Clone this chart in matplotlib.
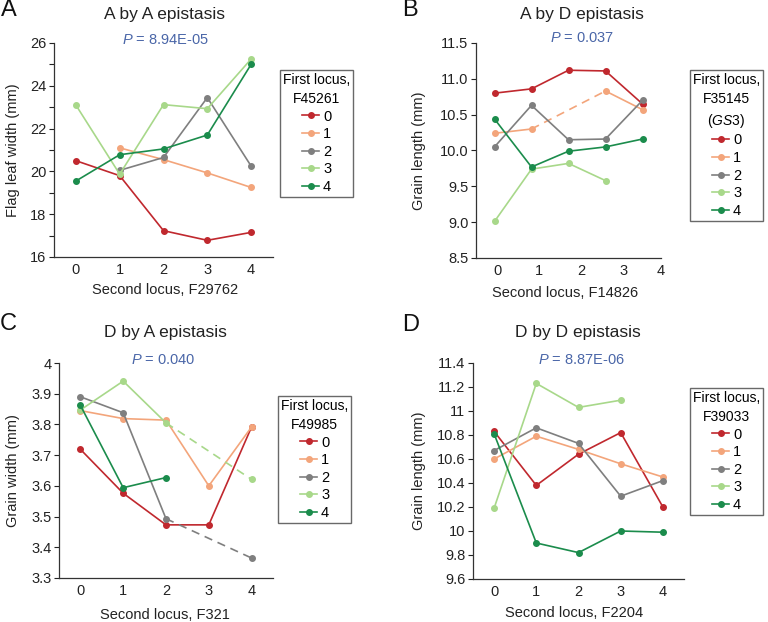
import matplotlib
matplotlib.use("Agg")
import numpy as np
import matplotlib.pyplot as plt
from matplotlib.ticker import MultipleLocator, FormatStrFormatter

plt.rcParams["font.family"] = ["Liberation Sans", "DejaVu Sans"]
plt.rcParams["mathtext.fontset"] = "custom"
plt.rcParams["mathtext.it"] = "Liberation Sans:italic"
plt.rcParams["mathtext.rm"] = "Liberation Sans"

W, H = 768, 622
nan = np.nan

# genotype classes (first / second locus)
genotypes = [0, 1, 2, 3, 4]
geno_labels = ["0", "1", "2", "3", "4"]
colors = ["#c0282e", "#f3a57b", "#7f7f7f", "#a8d88a", "#1b8c4c"]
p_color = "#4a66a8"

# A: flag leaf width, A by A
fl_0 = [20.5, 19.8, 17.23, 16.78, 17.15]
fl_1 = [nan, 21.1, 20.55, 19.93, 19.25]
fl_2 = [nan, 20.05, 20.65, 23.45, 20.25]
fl_3 = [23.1, 19.87, 23.12, 22.93, 25.25]
fl_4 = [19.55, 20.78, 21.05, 21.7, 25.0]

# B: grain length, A by D
glb_0 = [10.80, 10.86, 11.12, 11.11, 10.65]
glb_1 = [10.24, 10.30, nan, 10.83, 10.57]
glb_2 = [10.05, 10.63, 10.15, 10.16, 10.70]
glb_3 = [9.01, 9.74, 9.82, 9.58, nan]
glb_4 = [10.44, 9.77, 9.99, 10.05, 10.16]

# C: grain width, D by A
gw_0 = [3.719, 3.576, 3.473, 3.473, 3.792]
gw_1 = [3.845, 3.819, 3.814, 3.600, 3.792]
gw_2 = [3.890, 3.838, 3.493, nan, 3.365]
gw_3 = [3.847, 3.941, 3.805, nan, 3.621]
gw_4 = [3.862, 3.594, 3.627, nan, nan]

# D: grain length, D by D
gld_0 = [10.83, 10.38, 10.64, 10.82, 10.20]
gld_1 = [10.60, 10.79, 10.68, 10.56, 10.45]
gld_2 = [10.67, 10.86, 10.73, 10.29, 10.42]
gld_3 = [10.19, 11.23, 11.03, 11.09, nan]
gld_4 = [10.81, 9.90, 9.82, 10.00, 9.99]


def px(x, y):
    return x / W, 1 - y / H


def box(l, t, r, b):
    return [l / W, 1 - b / H, (r - l) / W, (b - t) / H]


def draw_series(ax, series):
    x = np.array(genotypes, dtype=float)
    for vals, col, lab in zip(series, colors, geno_labels):
        v = np.array(vals, dtype=float)
        ax.plot(x, v, color=col, lw=1.2, marker="o", ms=4, label=lab)
        idx = np.where(~np.isnan(v))[0]
        for i0, i1 in zip(idx[:-1], idx[1:]):
            if i1 - i0 > 1:
                ax.plot(x[[i0, i1]], v[[i0, i1]], color=col, lw=1.2, ls=(0, (5, 3.5)))


def style_axes(ax, xlabel, ylabel, ylab_x, xlab_pos):
    for s in ["top", "right"]:
        ax.spines[s].set_visible(False)
    for s in ["left", "bottom"]:
        ax.spines[s].set_color("#333333")
        ax.spines[s].set_linewidth(0.9)
    ax.tick_params(axis="x", length=0, pad=4, labelsize=10.5, colors="#222222")
    ax.tick_params(axis="y", which="both", length=3.5, width=0.8, pad=2,
                   labelsize=10.5, colors="#222222")
    ax.set_xlim(-0.5, 4.5)
    ax.set_xlabel(xlabel, fontsize=10.5, color="#222222")
    ax.set_ylabel(ylabel, fontsize=10.5, color="#222222")
    ax.xaxis.label.set_va("center")
    ax.yaxis.label.set_va("center")
    ax.xaxis.set_label_coords(*xlab_pos)
    ax.yaxis.set_label_coords(ylab_x, 0.5)


def add_legend(fig, ax, title, corner):
    leg = ax.legend(title=title, loc="upper left", bbox_to_anchor=px(*corner),
                    bbox_transform=fig.transFigure, borderaxespad=0,
                    fontsize=10.5, title_fontsize=10, frameon=True, fancybox=False,
                    edgecolor="#444444", handlelength=1.2, handletextpad=0.25,
                    labelspacing=0.25, borderpad=0.2, alignment="center")
    leg.get_frame().set_linewidth(1.0)
    leg.get_title().set_multialignment("center")
    leg.get_title().set_linespacing(1.45)
    return leg


fig = plt.figure(figsize=(W / 100, H / 100), dpi=100)

# ---- A ----
axA = fig.add_axes(box(54, 43, 273, 257))
draw_series(axA, [fl_0, fl_1, fl_2, fl_3, fl_4])
axA.set_ylim(16, 26)
axA.yaxis.set_major_locator(MultipleLocator(2))
axA.yaxis.set_minor_locator(MultipleLocator(1))
axA.set_xticks(genotypes, geno_labels)
style_axes(axA, "Second locus, F29762", "Flag leaf width (mm)", -0.187, (0.509, -0.154))
add_legend(fig, axA, "First locus,\nF45261", (280, 70))

# ---- B ----
axB = fig.add_axes(box(476, 43, 661, 258))
draw_series(axB, [glb_0, glb_1, glb_2, glb_3, glb_4])
axB.set_ylim(8.5, 11.5)
axB.yaxis.set_major_locator(MultipleLocator(0.5))
axB.yaxis.set_major_formatter(FormatStrFormatter("%.1f"))
axB.set_xticks([0.07, 1.21, 2.34, 3.5, 4.48], geno_labels)
style_axes(axB, "Second locus, F14826", "Grain length (mm)", -0.308, (0.481, -0.161))
add_legend(fig, axB, "First locus,\nF35145\n($\\mathit{GS3}$)", (690, 70))

# ---- C ----
axC = fig.add_axes(box(59, 363, 273, 578))
draw_series(axC, [gw_0, gw_1, gw_2, gw_3, gw_4])
axC.set_ylim(3.3, 4.0)
axC.yaxis.set_major_locator(MultipleLocator(0.1))
axC.yaxis.set_major_formatter(FormatStrFormatter("%g"))
axC.set_xticks(genotypes, geno_labels)
style_axes(axC, "Second locus, F321", "Grain width (mm)", -0.215, (0.495, -0.172))
add_legend(fig, axC, "First locus,\nF49985", (278, 396))

# ---- D ----
axD = fig.add_axes(box(473, 363, 684, 579))
draw_series(axD, [gld_0, gld_1, gld_2, gld_3, gld_4])
axD.set_ylim(9.6, 11.4)
axD.yaxis.set_major_locator(MultipleLocator(0.2))
axD.yaxis.set_major_formatter(FormatStrFormatter("%g"))
axD.set_xticks(genotypes, geno_labels)
style_axes(axD, "Second locus, F2204", "Grain length (mm)", -0.256, (0.479, -0.159))
add_legend(fig, axD, "First locus,\nF39033", (690, 388))

# titles, p values, panel letters
titles = [("A by A epistasis", (164, 15)), ("A by D epistasis", (582, 15)),
          ("D by A epistasis", (165, 333)), ("D by D epistasis", (578, 333))]
pvals = [("$P$ = 8.94E-05", (166, 40)), ("$P$ = 0.037", (582, 38)),
         ("$P$ = 0.040", (163, 360)), ("$P$ = 8.87E-06", (582, 360))]
letters = [("A", (9, 10)), ("B", (410, 10)), ("C", (8, 324)), ("D", (411, 325))]
for t, pos in titles:
    fig.text(*px(*pos), t, ha="center", va="center", fontsize=12.5, color="#222222")
for t, pos in pvals:
    fig.text(*px(*pos), t, ha="center", va="center", fontsize=10.5, color=p_color)
for t, pos in letters:
    fig.text(*px(*pos), t, ha="center", va="center", fontsize=17, color="#111111")

fig.savefig("out.png", dpi=100)
